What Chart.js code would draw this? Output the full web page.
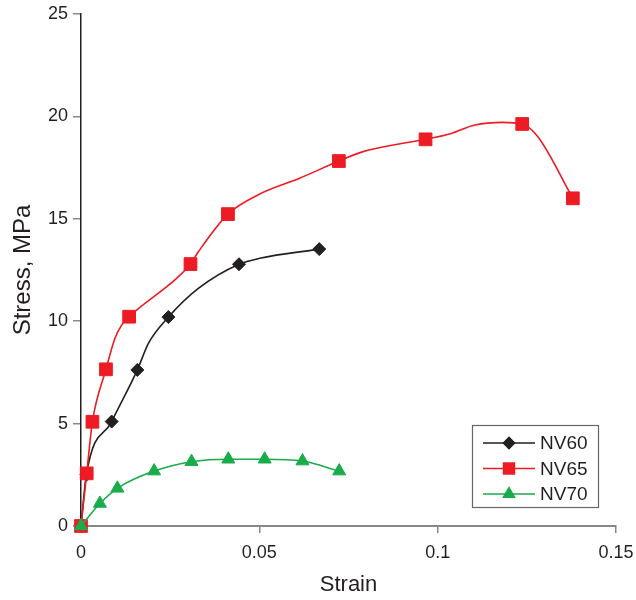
<!DOCTYPE html>
<html lang="en">
<head>
  <meta charset="UTF-8">
  <title>Stress-strain curves</title>
  <script src="https://cdn.jsdelivr.net/npm/chart.js"></script>
  <style>
    body { margin: 0; background: white; }
    #wrap { width: 636px; height: 600px; }
  </style>
</head>
<body>
  <div id="wrap"><canvas id="stressChart" width="636" height="600"></canvas></div>

  <script>
    // measured points (drawn with markers)
    const nv60Strain = [0, 0.0015, 0.0086, 0.0158, 0.0245, 0.0443, 0.0668];
    const nv60Stress = [0, 2.5, 5.1, 7.62, 10.2, 12.78, 13.52];
    const nv65Strain = [0, 0.0016, 0.0032, 0.007, 0.0135, 0.0307, 0.0412, 0.0723, 0.0966, 0.1237, 0.1379];
    const nv65Stress = [0, 2.57, 5.09, 7.65, 10.22, 12.79, 15.23, 17.82, 18.88, 19.63, 16.0];
    const nv70Strain = [0, 0.0053, 0.0102, 0.0205, 0.031, 0.0413, 0.0515, 0.0621, 0.0724];
    const nv70Stress = [0, 1.1, 1.84, 2.68, 3.14, 3.26, 3.26, 3.17, 2.68];

    // extra points on the curves between markers
    const nv60BendStrain = [0.0189, 0.0329, 0.0501];
    const nv60BendStress = [8.92, 11.6, 13.07];
    const nv65BendStrain = [0.0095, 0.0114, 0.0268, 0.0329, 0.05, 0.0613, 0.0791, 0.0903, 0.1038, 0.1104, 0.1183, 0.1281];
    const nv65BendStress = [9.16, 9.81, 12.09, 13.39, 16.2, 16.98, 18.28, 18.69, 19.17, 19.58, 19.71, 19.01];

    const seriesNames = ['NV60', 'NV65', 'NV70'];
    const xTickLabels = ['0', '0.05', '0.1', '0.15'];
    const yTickLabels = ['0', '5', '10', '15', '20', '25'];

    const FONT = "'Liberation Sans', Arial, sans-serif";
    const TEXT = '#231f20';

    function pts(xs, ys) {
      return xs.map((x, i) => ({ x: x, y: ys[i] }));
    }
    function curve(xs, ys, bx, by) {
      return pts(xs, ys).concat(pts(bx, by)).sort((a, b) => a.x - b.x);
    }

    const series = [
      { name: seriesNames[0], color: '#231f20', style: 'rectRot', radius: 6.5,
        marks: pts(nv60Strain, nv60Stress), line: curve(nv60Strain, nv60Stress, nv60BendStrain, nv60BendStress), order: 2 },
      { name: seriesNames[1], color: '#ed1c24', style: 'rect', radius: 9,
        marks: pts(nv65Strain, nv65Stress), line: curve(nv65Strain, nv65Stress, nv65BendStrain, nv65BendStress), order: 1 },
      { name: seriesNames[2], color: '#1aab4b', style: 'triangle', radius: 7.5,
        marks: pts(nv70Strain, nv70Stress), line: pts(nv70Strain, nv70Stress), order: 0 }
    ];

    const datasets = [];
    series.forEach(s => {
      datasets.push({
        label: s.name + ' line', data: s.line, showLine: true, borderColor: s.color, borderWidth: 1.6,
        pointRadius: 0, cubicInterpolationMode: 'monotone', fill: false, clip: false,
        order: s.order
      });
      datasets.push({
        label: s.name, data: s.marks, showLine: false, pointStyle: s.style,
        pointRadius: s.radius, pointBackgroundColor: s.color, pointBorderColor: s.color,
        pointBorderWidth: 1, clip: false, order: s.order
      });
    });

    // boxed legend with a line through each marker
    const boxLegend = {
      id: 'boxLegend',
      afterDraw(chart) {
        const ctx = chart.ctx;
        ctx.save();
        ctx.strokeStyle = '#666';
        ctx.lineWidth = 1.2;
        ctx.strokeRect(472.5, 425.5, 126, 82);
        series.forEach((s, i) => {
          const y = 443 + i * 25.5;
          ctx.strokeStyle = s.color;
          ctx.lineWidth = 1.6;
          ctx.beginPath();
          ctx.moveTo(483, y);
          ctx.lineTo(535, y);
          ctx.stroke();
          ctx.fillStyle = s.color;
          Chart.helpers.drawPoint(ctx, { pointStyle: s.style, radius: s.radius * 0.85, rotation: 0, borderWidth: 1 }, 509, y);
          ctx.fillStyle = TEXT;
          ctx.font = '19px ' + FONT;
          ctx.textAlign = 'left';
          ctx.textBaseline = 'middle';
          ctx.fillText(s.name, 540, y + 1);
        });
        ctx.restore();
      }
    };

    new Chart(document.getElementById('stressChart'), {
      type: 'scatter',
      data: { datasets: datasets },
      plugins: [boxLegend],
      options: {
        responsive: false,
        animation: false,
        layout: { padding: { top: 14, right: 20, left: 0, bottom: 0 } },
        plugins: { legend: { display: false }, tooltip: { enabled: false } },
        scales: {
          x: {
            type: 'linear', min: 0, max: 0.15,
            afterFit(scale) { scale.height = 74; scale.paddingLeft = 0; scale.paddingRight = 0; },
            afterBuildTicks(scale) { scale.ticks = xTickLabels.map(t => ({ value: parseFloat(t) })); },
            ticks: {
              callback: (v, i) => xTickLabels[i],
              font: { family: FONT, size: 18 }, color: TEXT, padding: 9, maxRotation: 0
            },
            grid: { drawOnChartArea: false, drawTicks: true, tickLength: 7, color: '#888', lineWidth: 1.5 },
            border: { display: true, color: '#888', width: 2 },
            title: { display: true, text: 'Strain', font: { family: FONT, size: 22 }, color: TEXT, padding: { top: 0, bottom: 2 } }
          },
          y: {
            type: 'linear', min: 0, max: 25,
            afterFit(scale) { scale.width = 81; scale.paddingTop = 0; scale.paddingBottom = 0; },
            afterBuildTicks(scale) { scale.ticks = yTickLabels.map(t => ({ value: parseFloat(t) })); },
            ticks: {
              callback: (v, i) => yTickLabels[i],
              font: { family: FONT, size: 18 }, color: TEXT, padding: 5
            },
            grid: { drawOnChartArea: false, drawTicks: true, tickLength: 8, color: '#888', lineWidth: 1.5 },
            border: { display: true, color: '#231f20', width: 1.5 },
            title: { display: true, text: 'Stress, MPa', font: { family: FONT, size: 24 }, color: TEXT, padding: { top: 9, bottom: 0 } }
          }
        }
      }
    });
  </script>
</body>
</html>
